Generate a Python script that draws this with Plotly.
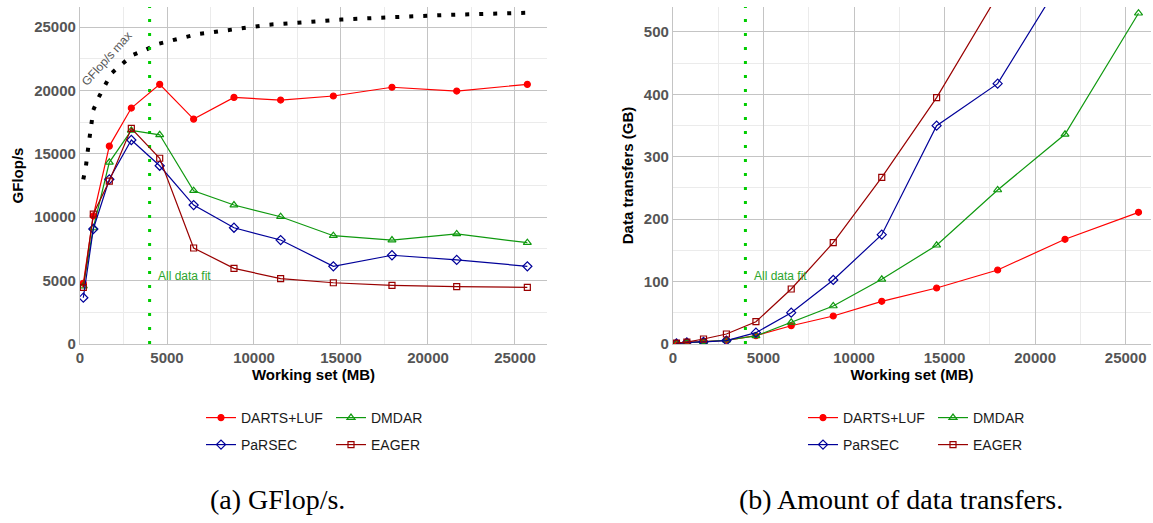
import plotly.graph_objects as go

# ---------------- data ----------------
working_set = [190, 765, 1685, 2950, 4580, 6530, 8850, 11530, 14560, 17930, 21650, 25710]

gflops_darts = [4790, 10100, 15610, 18610, 20480, 17740, 19450, 19240, 19560, 20250, 19950, 20480]
gflops_dmdar = [4570, 9150, 14330, 16850, 16500, 12090, 10960, 10040, 8540, 8200, 8680, 7990]
gflops_parsec = [3650, 9070, 12990, 16090, 14060, 10960, 9170, 8200, 6130, 7000, 6630, 6130]
gflops_eager = [4470, 10250, 12850, 17010, 14650, 7570, 5970, 5150, 4830, 4630, 4520, 4470]

transfers_darts = [1.0, 2.7, 3.7, 5.9, 13.3, 29.3, 44.9, 68.4, 89.7, 118.6, 167.8, 211.0]
transfers_dmdar = [1.0, 2.0, 3.5, 6.0, 13.0, 34.8, 60.9, 103.7, 158.2, 246.8, 336.0, 530.0]
transfers_parsec = [1.0, 2.5, 3.5, 5.5, 18.1, 50.2, 102.6, 175.2, 349.9, 417.2, 592.0, 770.0]
transfers_eager = [1.5, 3.0, 8.0, 16.0, 35.7, 88.1, 162.3, 267.0, 394.7, 555.0, 740.0, 950.0]

gflops_max_x = [190, 345, 440, 535, 650, 765, 1075, 1420, 1800, 2430, 3045, 3775, 4520, 5300,
                6090, 6855, 7660, 8465, 9250, 10040, 10845, 11650, 12455, 15000, 18000, 21000, 25700]
gflops_max_y = [12990, 14060, 15165, 16270, 17350, 18450, 19455, 20425, 21345, 22100, 22800, 23210,
                23680, 23950, 24210, 24470, 24600, 24760, 24920, 25050, 25185, 25260, 25340, 25590,
                25780, 25950, 26130]

all_data_fit_x = 4000

series_names = ["DARTS+LUF", "DMDAR", "PaRSEC", "EAGER"]
x_ticks = [0, 5000, 10000, 15000, 20000, 25000]
gflops_ticks = [0, 5000, 10000, 15000, 20000, 25000]
transfer_ticks = [0, 100, 200, 300, 400, 500]

# ---------------- styles ----------------
colors = ["#ff0000", "#0f990f", "#000099", "#990000"]
symbols = ["circle", "triangle-up-open", "diamond-open", "square-open"]
msizes = [6, 7, 7, 6]
legend_rows_left = ["legend", "legend", "legend2", "legend2"]
legend_rows_right = ["legend3", "legend3", "legend4", "legend4"]

W, H = 1153, 523
XMAX_L, YMAX_L = 26840, 26580
XMAX_R, YMAX_R = 26400, 540

fig = go.Figure()

# reference lines
fig.add_trace(go.Scatter(x=gflops_max_x, y=gflops_max_y, mode="lines",
                         line=dict(color="black", width=4, dash="4px,10px"),
                         showlegend=False, hoverinfo="skip", xaxis="x", yaxis="y"))
fig.add_trace(go.Scatter(x=[all_data_fit_x, all_data_fit_x], y=[0, YMAX_L], mode="lines",
                         line=dict(color="#00cc00", width=3, dash="3px,11px"),
                         showlegend=False, hoverinfo="skip", xaxis="x", yaxis="y"))
fig.add_trace(go.Scatter(x=[all_data_fit_x, all_data_fit_x], y=[0, YMAX_R], mode="lines",
                         line=dict(color="#00cc00", width=3, dash="3px,11px"),
                         showlegend=False, hoverinfo="skip", xaxis="x2", yaxis="y2"))

left_data = [gflops_darts, gflops_dmdar, gflops_parsec, gflops_eager]
right_data = [transfers_darts, transfers_dmdar, transfers_parsec, transfers_eager]

for i, name in enumerate(series_names):
    fig.add_trace(go.Scatter(
        x=working_set, y=left_data[i], name=name, mode="lines+markers",
        line=dict(color=colors[i], width=1.2),
        marker=dict(symbol=symbols[i], size=msizes[i], color=colors[i],
                    line=dict(color=colors[i], width=1.2)),
        legend=legend_rows_left[i], xaxis="x", yaxis="y"))
for i, name in enumerate(series_names):
    fig.add_trace(go.Scatter(
        x=working_set, y=right_data[i], name=name, mode="lines+markers",
        line=dict(color=colors[i], width=1.2),
        marker=dict(symbol=symbols[i], size=msizes[i], color=colors[i],
                    line=dict(color=colors[i], width=1.2)),
        legend=legend_rows_right[i], xaxis="x2", yaxis="y2"))

tickfont = dict(family="Liberation Sans, Arial, sans-serif", size=15, color="#555555", weight=700)
titlefont = dict(family="Liberation Sans, Arial, sans-serif", size=15, color="black", weight=700)
grid = dict(showgrid=True, gridcolor="#c4c4c4", gridwidth=1.3, showline=True,
            linecolor="#c4c4c4", linewidth=1.3, ticks="", zeroline=False, tickfont=tickfont,
            automargin=False, ticklabelstandoff=0)


def bold(vals):
    return ["<b>%d</b>" % v for v in vals]


ydom = [179 / H, (H - 7) / H]

fig.update_layout(
    width=W, height=H,
    margin=dict(l=0, r=0, t=0, b=0, autoexpand=False),
    paper_bgcolor="white", plot_bgcolor="white",
    font=dict(family="Liberation Sans, Arial, sans-serif", color="#1a1a1a"),
    xaxis=dict(domain=[80 / W, 547 / W], range=[0, XMAX_L], tickvals=x_ticks, ticktext=bold(x_ticks),
               title=dict(text="Working set (MB)", font=titlefont, standoff=0),
               minor=dict(dtick=2500, showgrid=True, gridcolor="#ebebeb", gridwidth=1),
               anchor="y", **grid),
    yaxis=dict(domain=ydom, range=[0, YMAX_L], tickvals=gflops_ticks, ticktext=bold(gflops_ticks),
               title=dict(text="GFlop/s", font=titlefont, standoff=6),
               minor=dict(dtick=2500, showgrid=True, gridcolor="#ebebeb", gridwidth=1),
               anchor="x", **grid),
    xaxis2=dict(domain=[673 / W, 1151 / W], range=[0, XMAX_R], tickvals=x_ticks, ticktext=bold(x_ticks),
                title=dict(text="Working set (MB)", font=titlefont, standoff=0),
                minor=dict(dtick=2500, showgrid=True, gridcolor="#ebebeb", gridwidth=1),
                anchor="y2", **grid),
    yaxis2=dict(domain=ydom, range=[0, YMAX_R], tickvals=transfer_ticks, ticktext=bold(transfer_ticks),
                title=dict(text="Data transfers (GB)", font=titlefont, standoff=6),
                minor=dict(dtick=50, showgrid=True, gridcolor="#ebebeb", gridwidth=1),
                anchor="x2", **grid),
)

legend_common = dict(orientation="h", xanchor="left", yanchor="middle", bgcolor="rgba(0,0,0,0)",
                     font=dict(size=14, color="#1a1a1a", family="Liberation Sans, Arial, sans-serif"),
                     itemwidth=30, entrywidth=85, entrywidthmode="pixels", borderwidth=0,
                     itemclick=False, itemdoubleclick=False)
fig.update_layout(
    legend=dict(x=201 / W, y=(H - 418) / H, **legend_common),
    legend2=dict(x=201 / W, y=(H - 445) / H, **legend_common),
    legend3=dict(x=803 / W, y=(H - 418) / H, **legend_common),
    legend4=dict(x=803 / W, y=(H - 445) / H, **legend_common),
)

annots = [
    dict(x=4350, y=5360, xref="x", yref="y", text="All data fit", showarrow=False,
         xanchor="left", yanchor="middle", font=dict(size=12, color="#2ca52c")),
    dict(x=4350, y=109, xref="x2", yref="y2", text="All data fit", showarrow=False,
         xanchor="left", yanchor="middle", font=dict(size=12, color="#2ca52c")),
    dict(x=1523, y=22476, xref="x", yref="y", text="GFlop/s max", showarrow=False,
         textangle=-48, font=dict(size=12, color="#555555")),
    dict(x=277 / W, y=(H - 499) / H, xref="paper", yref="paper", text="(a) GFlop/s.",
         showarrow=False, xanchor="center", yanchor="middle",
         font=dict(family="Liberation Serif, serif", size=28, color="black")),
    dict(x=901 / W, y=(H - 499) / H, xref="paper", yref="paper", text="(b) Amount of data transfers.",
         showarrow=False, xanchor="center", yanchor="middle",
         font=dict(family="Liberation Serif, serif", size=28, color="black")),
]
fig.update_layout(annotations=annots)

fig.write_html("out.html", config={"displayModeBar": False},
               post_script="document.body.style.margin='0';document.body.style.overflow='hidden';")
